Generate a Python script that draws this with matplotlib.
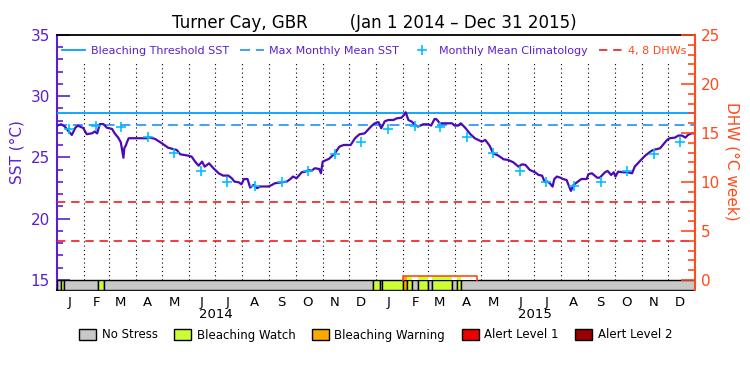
import numpy as np
import pandas as pd
import matplotlib
matplotlib.use('Agg')
import matplotlib.pyplot as plt
import matplotlib.dates as mdates
from matplotlib.lines import Line2D
from matplotlib.patches import Patch

start = pd.Timestamp('2014-01-01')
end   = pd.Timestamp('2016-01-01')

# daily SST (days since Jan 1 2014)
sst_day = [0, 5, 9, 13, 17, 21, 24, 30, 34, 40, 43, 46, 49, 53, 57, 63, 66, 70, 73,
           76, 77, 79, 80, 82, 103, 105, 112, 120, 127, 137, 141, 150, 154, 158, 162,
           166, 169, 174, 179, 185, 190, 196, 200, 203, 208, 211, 214, 218, 221, 225,
           229, 232, 242, 246, 249, 257, 263, 267, 270, 274, 280, 284, 288, 291, 295,
           300, 302, 304, 311, 318, 323, 328, 336, 341, 346, 352, 358, 362, 366, 368,
           371, 375, 379, 385, 389, 394, 397, 399, 402, 406, 410, 413, 419, 425, 428,
           432, 434, 438, 444, 452, 455, 459, 462, 467, 473, 478, 486, 490, 495, 499,
           505, 511, 516, 522, 528, 532, 536, 541, 547, 551, 555, 558, 561, 564, 567,
           569, 572, 576, 579, 583, 585, 588, 591, 595, 600, 606, 608, 612, 618, 621,
           627, 630, 634, 637, 639, 642, 648, 653, 658, 661, 667, 673, 679, 682, 690,
           698, 701, 707, 711, 715, 719, 722, 726, 730]
sst_val = [27.60, 27.71, 27.52, 27.16, 26.84, 27.43, 27.60, 27.40, 26.90, 26.97, 27.11,
           26.97, 27.73, 27.73, 27.43, 27.33, 26.97, 26.62, 26.24, 24.98, 25.75, 26.02,
           26.24, 26.57, 26.57, 26.65, 26.52, 26.16, 25.80, 25.61, 25.26, 25.15, 25.07,
           24.66, 24.33, 24.66, 24.25, 24.52, 24.12, 23.71, 23.52, 23.52, 23.30, 23.03,
           22.97, 22.81, 23.24, 23.24, 22.54, 22.76, 22.49, 22.63, 22.63, 22.76, 22.89,
           22.97, 23.03, 23.24, 23.44, 23.30, 23.79, 23.84, 23.98, 23.90, 24.12, 24.06,
           23.71, 24.66, 24.88, 25.34, 25.88, 26.02, 26.02, 26.57, 26.89, 26.97, 27.43,
           27.71, 27.87, 27.87, 27.38, 27.95, 28.06, 28.06, 28.20, 28.24, 28.47, 28.69,
           28.06, 27.92, 27.65, 27.52, 27.71, 27.71, 27.60, 28.14, 28.14, 27.79, 27.79,
           27.79, 27.60, 27.60, 27.79, 27.43, 26.90, 26.57, 26.29, 26.43, 25.96, 25.34,
           25.15, 24.85, 24.80, 24.61, 24.25, 24.44, 24.39, 23.98, 23.79, 23.57, 23.52,
           23.00, 23.03, 22.89, 22.62, 23.24, 23.44, 23.35, 23.24, 23.16, 22.81, 22.27,
           22.76, 22.97, 23.24, 23.24, 23.63, 23.71, 23.35, 23.35, 23.79, 23.90, 23.57,
           23.79, 23.44, 23.84, 23.79, 23.79, 23.71, 24.25, 24.71, 25.15, 25.48, 25.61,
           25.75, 26.43, 26.57, 26.62, 26.79, 26.79, 26.62, 26.84, 26.97, 26.97]

# monthly mean climatology (Jan..Dec)
clim_val = [27.35, 27.60, 27.45, 26.65, 25.34, 23.92, 22.97, 22.70, 22.97, 23.92, 25.26, 26.24]
mmm = 27.65
threshold = 28.65
dhw_lines = [4, 8]

# DHW (°C week) accumulation period
dhw_period = [396, 481]
dhw_value = 0.45

# daily stress level (start day of each run)
status_start = [0, 5, 8, 47, 54, 362, 370, 372, 396, 400, 406, 413, 425, 429, 452, 458, 462]
status_level = [0, 1, 0, 1, 0, 1, 0, 1, 2, 1, 0, 1, 0, 1, 0, 1, 0]
status_names = ['No Stress', 'Bleaching Watch', 'Bleaching Warning', 'Alert Level 1', 'Alert Level 2']
status_colors = ['#c8c8c8', '#ccff33', '#ffa800', '#ee0000', '#990000']

month_letters = list('JFMAMJJASOND')
years = [2014, 2015]

purple = '#5b1fd1'
sst_col = '#4a0ab8'
orange = '#ff4a1a'
red = '#ee1c1c'
thr_col = '#00a0ff'
mmm_col = '#1e90ff'
clim_col = '#00bfff'

t0 = mdates.date2num(start)
t1 = mdates.date2num(end)

fig = plt.figure(figsize=(7.5, 3.75), dpi=100)
ax = fig.add_axes([0.076, 0.2267, 0.8507, 0.68])
ymin = 14.18

# SST and reference lines
x_sst = t0 + np.array(sst_day)
ax.plot(x_sst, sst_val, color=sst_col, lw=1.6, zorder=4)
ax.axhline(threshold, color=thr_col, lw=1.3, zorder=3)
ax.axhline(mmm, color=mmm_col, lw=1.2, dashes=(6, 3.5), zorder=3)

clim_dates = pd.date_range(start, periods=24, freq='MS') + pd.Timedelta(days=14)
ax.plot(mdates.date2num(clim_dates), clim_val * len(years), '+', color=clim_col,
        ms=7, mew=1.2, zorder=5)

month_starts = pd.date_range('2014-02-01', '2015-12-01', freq='MS')
ax.vlines(mdates.date2num(month_starts), 15, 32.7, colors='k', lw=0.8,
          linestyles=(0, (1, 2.8)), zorder=2)

# status bar
s_edges = np.array(status_start + [int(t1 - t0)])
ax.bar(t0 + s_edges[:-1], 15 - ymin, width=np.diff(s_edges), bottom=ymin, align='edge',
       color=[status_colors[l] for l in status_level], edgecolor='black', lw=1, zorder=3)

ax.set_xlim(t0, t1)
ax.set_ylim(ymin, 35)
ax.set_yticks([15, 20, 25, 30, 35])
ax.set_yticks([v for v in range(16, 35) if v % 5], minor=True)
ax.tick_params(axis='y', which='major', direction='in', length=9.5, width=1.2,
               colors=purple, labelsize=11, pad=5)
ax.tick_params(axis='y', which='minor', direction='in', length=4.5, width=1.2, colors=purple)
mid_months = pd.date_range(start, periods=24, freq='MS') + pd.Timedelta(days=14)
ax.set_xticks(mdates.date2num(mid_months))
ax.set_xticklabels(month_letters * len(years))
ax.tick_params(axis='x', length=0, labelsize=9.5, pad=4)
for y in years:
    ax.text(mdates.date2num(pd.Timestamp(f'{y}-07-02')), -0.098, str(y),
            transform=ax.get_xaxis_transform(), ha='center', va='center', fontsize=9.5)

ax.spines['left'].set_color(purple)
ax.spines['left'].set_linewidth(1.5)
ax.spines['right'].set_visible(False)
ax.spines['top'].set_linewidth(1.3)
ax.spines['bottom'].set_linewidth(1.3)

# DHW axis
ax2 = ax.twinx()
ax2.set_ylim(-1.02, 25)
for d in dhw_lines:
    ax2.axhline(d, color=red, lw=1.2, dashes=(5, 3.5))
for i, l in enumerate(status_level):
    a = max(s_edges[i], dhw_period[0])
    b = min(s_edges[i + 1], dhw_period[1])
    if a < b:
        ax2.fill_between([t0 + a, t0 + b], 0, dhw_value,
                         color=status_colors[l] if l > 0 else 'white', lw=0, zorder=3)
px = t0 + np.array([dhw_period[0], dhw_period[0], dhw_period[1], dhw_period[1]])
ax2.plot(px, [0, dhw_value, dhw_value, 0], color=orange, lw=1.2, zorder=4)
ax2.set_yticks([0, 5, 10, 15, 20, 25])
ax2.set_yticks([v for v in range(1, 25) if v % 5], minor=True)
ax2.tick_params(axis='y', which='major', direction='in', length=10, width=1.2,
                colors=orange, labelsize=11, pad=4)
ax2.tick_params(axis='y', which='minor', direction='in', length=5, width=1.2, colors=orange)
for s in ['left', 'top', 'bottom']:
    ax2.spines[s].set_visible(False)
ax2.spines['right'].set_color(orange)
ax2.spines['right'].set_linewidth(1.5)

# labels
fig.text(0.499, 1 - 23 / 375, 'Turner Cay, GBR        (Jan 1 2014 \u2013 Dec 31 2015)',
         ha='center', va='center', fontsize=12)
fig.text(17 / 750, 1 - 152 / 375, 'SST (\u00b0C)', rotation=90, ha='center', va='center',
         fontsize=11, color=purple)
fig.text(732 / 750, 1 - 161 / 375, 'DHW (\u00b0C week)', rotation=270, ha='center',
         va='center', fontsize=11, color=orange)

# top legend
handles = [Line2D([], [], color=thr_col, lw=1.3),
           Line2D([], [], color=mmm_col, lw=1.2, dashes=(6, 3.5)),
           Line2D([], [], color=clim_col, marker='+', ls='none', ms=7, mew=1.2),
           Line2D([], [], color=red, lw=1.2, dashes=(5, 3.5))]
labels = ['Bleaching Threshold SST', 'Max Monthly Mean SST', 'Monthly Mean Climatology', '4, 8 DHWs']
leg = ax2.legend(handles, labels, ncol=4, loc='center', bbox_to_anchor=(0.497, 0.937),
                 frameon=False, fontsize=8, handlelength=2.1, handletextpad=0.5,
                 columnspacing=1.0, borderpad=0, borderaxespad=0)
for t, c in zip(leg.get_texts(), [purple, purple, purple, orange]):
    t.set_color(c)

# status legend
patches = [Patch(facecolor=c, edgecolor='black', lw=1) for c in status_colors]
fig.legend(patches, status_names, ncol=5, loc='center', bbox_to_anchor=(0.501, 1 - 335 / 375),
           frameon=False, fontsize=8.5, handlelength=1.45, handleheight=1.0,
           handletextpad=0.45, columnspacing=1.4)

fig.savefig('out.png', dpi=100)
